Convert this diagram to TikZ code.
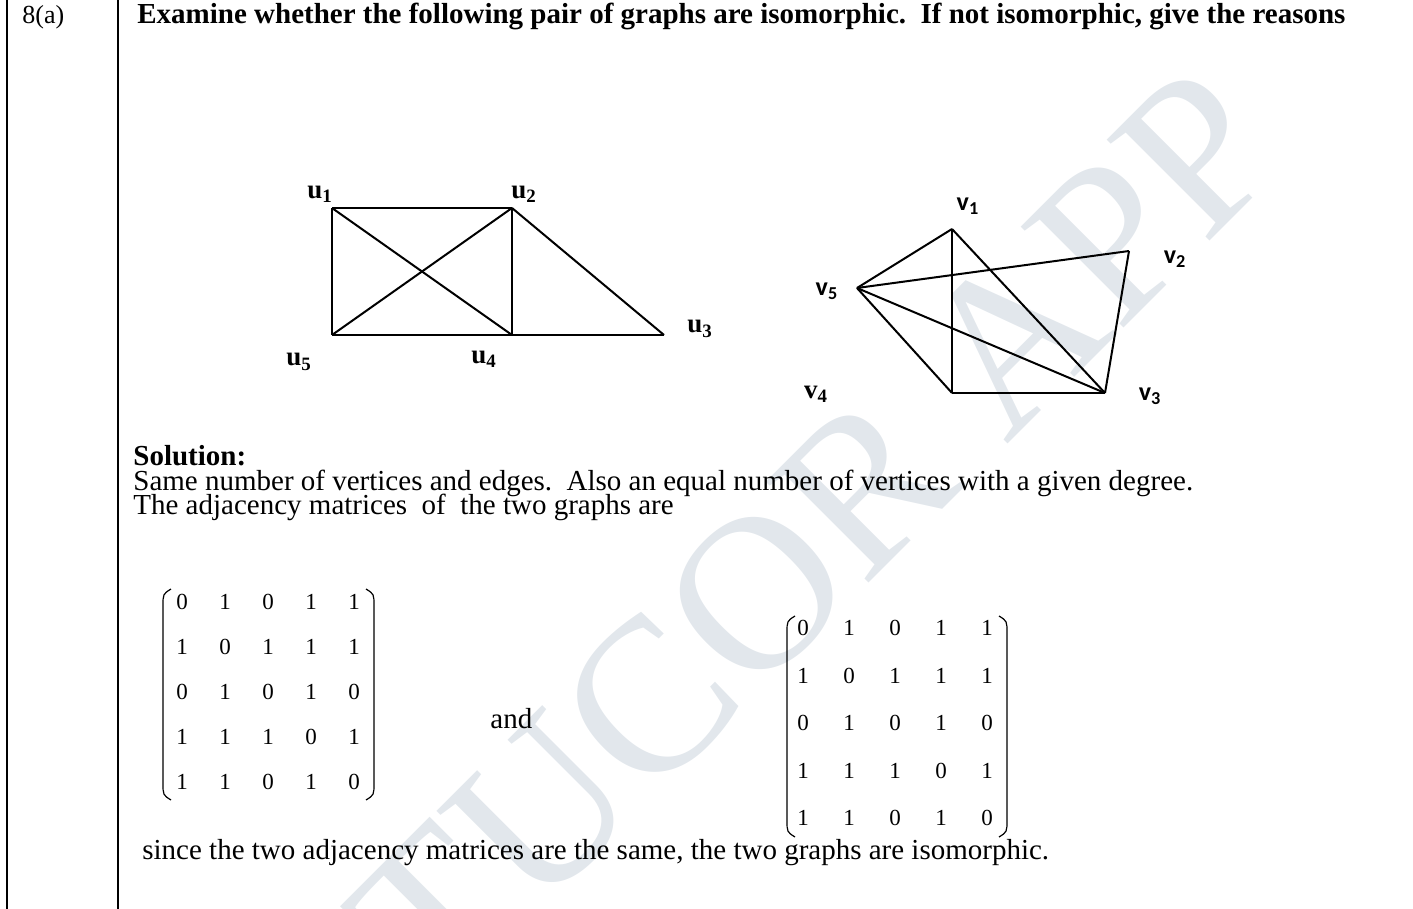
\documentclass[tikz,border=0pt]{standalone}
\usepackage{fontspec}
\setmainfont{Liberation Serif}
\newfontfamily\calibri{Carlito}
\definecolor{wmark}{RGB}{226,231,236}

\begin{document}
\begin{tikzpicture}[x=0.5pt,y=-0.5pt,
  edge/.style={line width=1pt},
  ulabel/.style={font=\fontsize{13.5}{15}\selectfont\bfseries},
  vlabel/.style={font=\fontsize{13}{14}\selectfont\calibri\bfseries},
  body/.style={anchor=base west,inner sep=0pt,font=\fontsize{14.5}{16}\selectfont},
  entry/.style={font=\fontsize{11.5}{12}\selectfont,inner sep=0pt}]
\useasboundingbox (0,0) rectangle (1413,909);
\clip (0,0) rectangle (1413,909);

% watermark
\node[wmark,rotate=45,font=\fontsize{110}{110}\selectfont] (wm) at (815,535) {TUCOR APP};

% frame
\draw[line width=1pt] (7,0) -- (7,909);
\draw[line width=1pt] (118,0) -- (118,909);

\node[body,font=\fontsize{13}{15}\selectfont] (qno) at (22,24) {8(a)};
\node[body,font=\fontsize{14.5}{16}\selectfont\bfseries] (ques) at (137,24)
  {Examine whether the following pair of graphs are isomorphic.\ \ If not isomorphic, give the reasons};

% first graph
\coordinate (u1) at (332,208);
\coordinate (u2) at (512,208);
\coordinate (u3) at (664,335);
\coordinate (u4) at (512,335);
\coordinate (u5) at (332,335);
\foreach \a/\b in {u1/u2,u1/u5,u1/u4,u2/u5,u2/u4,u2/u3,u3/u4,u4/u5}
  \draw[edge] (\a) -- (\b);
\node[ulabel] (lu1) at (320,194) {u\textsubscript{1}};
\node[ulabel] (lu2) at (524,194) {u\textsubscript{2}};
\node[ulabel] (lu3) at (700,329) {u\textsubscript{3}};
\node[ulabel] (lu4) at (484,359) {u\textsubscript{4}};
\node[ulabel] (lu5) at (299,362) {u\textsubscript{5}};

% second graph
\coordinate (v1) at (952,229);
\coordinate (v2) at (1129,251);
\coordinate (v3) at (1105,393);
\coordinate (v4) at (952,393);
\coordinate (v5) at (857,288);
\foreach \a/\b in {v5/v1,v1/v4,v1/v3,v5/v2,v2/v3,v5/v3,v5/v4,v4/v3}
  \draw[edge] (\a) -- (\b);
\node[vlabel] (lv1) at (968,206) {v\textsubscript{1}};
\node[vlabel] (lv2) at (1175,259) {v\textsubscript{2}};
\node[vlabel] (lv3) at (1150,396) {v\textsubscript{3}};
\node[ulabel] (lv4) at (816,394) {v\textsubscript{4}};
\node[vlabel] (lv5) at (827,291) {v\textsubscript{5}};

% solution text
\node[body,font=\fontsize{14.5}{16}\selectfont\bfseries] (sol) at (133,465) {Solution:};
\node[body] (line1) at (133,490) {Same number of vertices and edges.\ \ Also an equal number of vertices with a given degree.};
\node[body] (line2) at (133,514) {The adjacency matrices\ \ of\ \ the two graphs are};
\node[body] (and) at (490,728) {and};
\node[body] (concl) at (142,859) {since the two adjacency matrices are the same, the two graphs are isomorphic.};

% matrices
\foreach \m/\xa/\dx/\ya/\dy in {a/139/43/557/45, b/757/46/580.5/47.5}
  \foreach \row [count=\i] in {{0,1,0,1,1},{1,0,1,1,1},{0,1,0,1,0},{1,1,1,0,1},{1,1,0,1,0}}
    \foreach \e [count=\j] in \row
      \node[entry] (\m\i\j) at ({\xa+\dx*\j},{\ya+\dy*\i}) {\e};

% brackets
\draw[line width=0.6pt] (171,589) .. controls (163,594) .. (163,606) -- (163,783) .. controls (163,795) .. (171,800);
\draw[line width=0.6pt] (366,589) .. controls (374,594) .. (374,606) -- (374,783) .. controls (374,795) .. (366,800);
\draw[line width=0.6pt] (795,616) .. controls (787,621) .. (787,633) -- (787,820) .. controls (787,832) .. (795,837);
\draw[line width=0.6pt] (999,616) .. controls (1007,621) .. (1007,633) -- (1007,820) .. controls (1007,832) .. (999,837);
\end{tikzpicture}
\end{document}
